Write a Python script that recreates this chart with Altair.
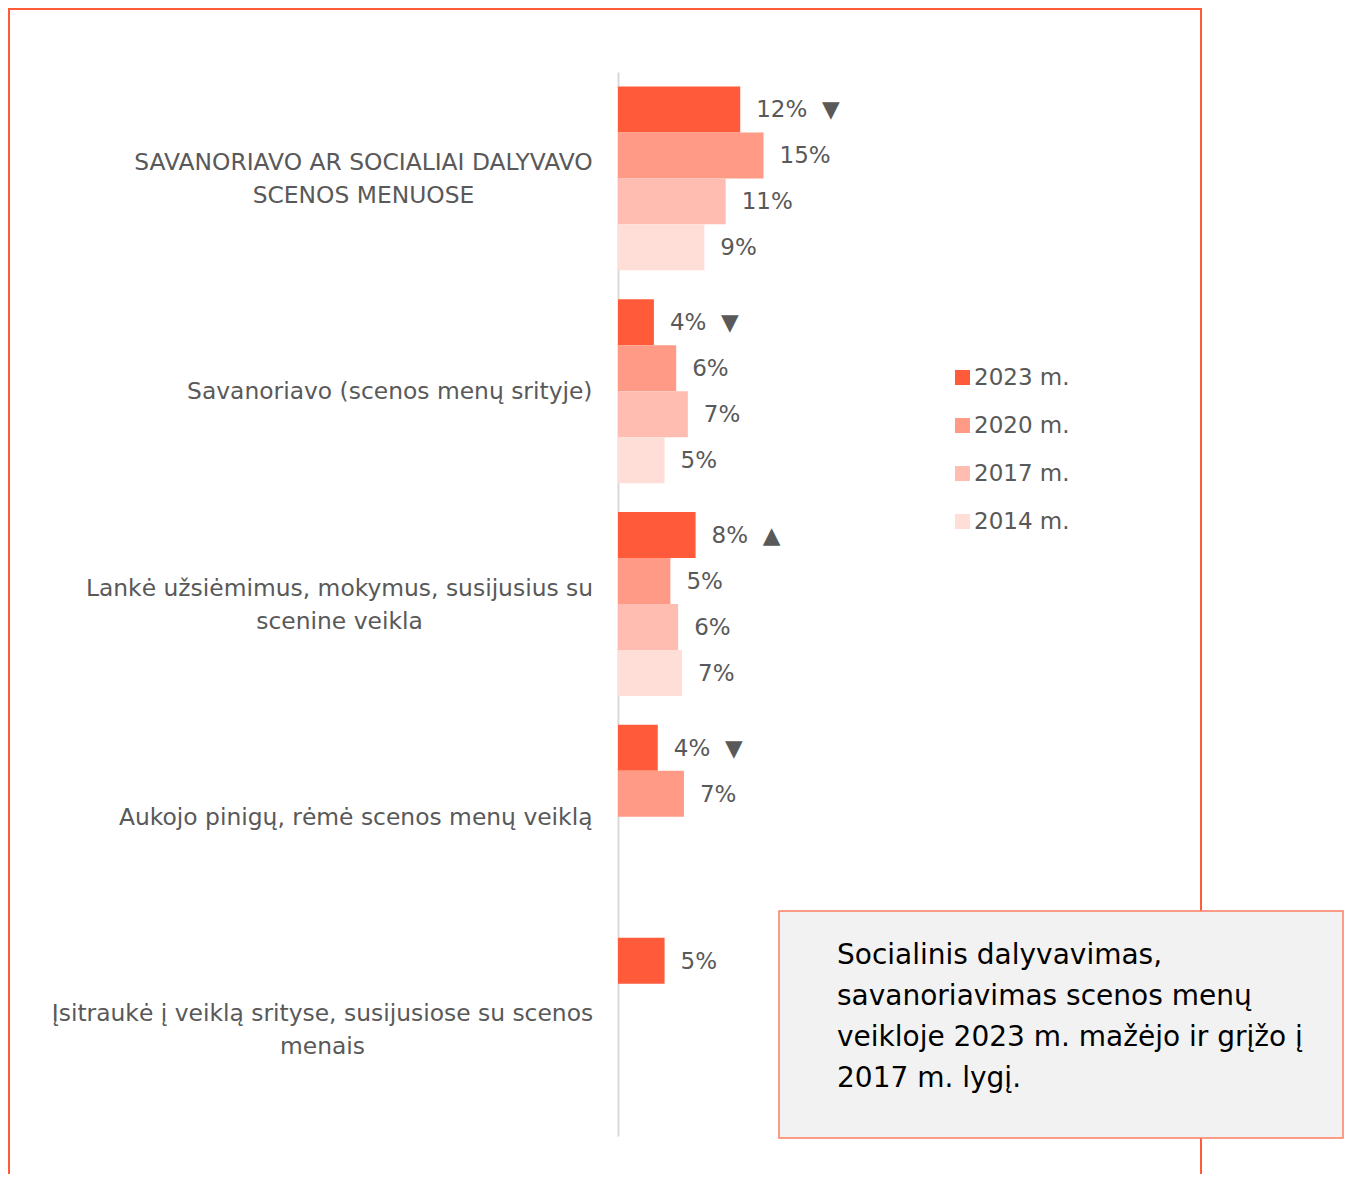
import altair as alt
import pandas as pd

# ---------------- data ----------------
categories = [
    "SAVANORIAVO AR SOCIALIAI DALYVAVO\nSCENOS MENUOSE",
    "Savanoriavo (scenos menų srityje)",
    "Lankė užsiėmimus, mokymus, susijusius su\nscenine veikla",
    "Aukojo pinigų, rėmė scenos menų veiklą",
    "Įsitraukė į veiklą srityse, susijusiose su scenos\nmenais",
]
years = ["2023 m.", "2020 m.", "2017 m.", "2014 m."]

values_2023 = [12.6, 3.7, 8.0, 4.1, 4.8]
values_2020 = [15.0, 6.0, 5.4, 6.8, None]
values_2017 = [11.1, 7.2, 6.2, None, None]
values_2014 = [8.9, 4.8, 6.6, None, None]

labels_2023 = ["12%", "4%", "8%", "4%", "5%"]
labels_2020 = ["15%", "6%", "5%", "7%", ""]
labels_2017 = ["11%", "7%", "6%", "", ""]
labels_2014 = ["9%", "5%", "7%", "", ""]

arrows_2023 = ["▼", "▼", "▲", "▼", ""]

note_lines = [
    "Socialinis dalyvavimas,",
    "savanoriavimas scenos menų",
    "veikloje 2023 m. mažėjo ir grįžo į",
    "2017 m. lygį.",
]

colors = ["#FF5B3A", "#FF9A86", "#FFBCB0", "#FFDED8"]

rows = []
series = [
    (years[0], values_2023, labels_2023, arrows_2023),
    (years[1], values_2020, labels_2020, [""] * 5),
    (years[2], values_2017, labels_2017, [""] * 5),
    (years[3], values_2014, labels_2014, [""] * 5),
]
for yr, vals, labs, arrs in series:
    for cat, v, lab, arr in zip(categories, vals, labs, arrs):
        if v is None:
            continue
        text = lab + ("\u00a0\u00a0" + arr if arr else "")
        rows.append({"category": cat, "year": yr, "value": v, "label": text})
df = pd.DataFrame(rows)
one = pd.DataFrame({"k": [0]})

FONT = "DejaVu Sans"
GREY = "#595959"

label_pad = {
    "indexof(datum.value, 'SAVANORIAVO AR') >= 0": 255,
    "indexof(datum.value, 'Lankė') >= 0": 279,
    "indexof(datum.value, 'Įsitraukė') >= 0": 296,
}
multi_test = "indexof(datum.value, '\\n') >= 0"
pad_cond = {"condition": [{"test": t, "value": v} for t, v in label_pad.items()], "value": 26}
align_cond = {"condition": {"test": multi_test, "value": "center"}, "value": "right"}
offset_cond = {"condition": {"test": multi_test, "value": -15.5}, "value": 1}

y_enc = alt.Y(
    "category:N",
    sort=categories,
    scale=alt.Scale(domain=categories, paddingInner=0.136, paddingOuter=0.068),
    axis=alt.Axis(
        title=None,
        ticks=False,
        tickSize=0,
        domainColor="#D9D9D9",
        domainWidth=2,
        labelFont=FONT,
        labelFontSize=23.4,
        labelColor=GREY,
        labelLimit=800,
        labelLineHeight=33,
        labelExpr="split(datum.label, '\\n')",
        labelPadding=pad_cond,
        labelAlign=align_cond,
        labelOffset=offset_cond,
        labelBaseline="middle",
    ),
)

base = alt.Chart(df).encode(
    y=y_enc,
    yOffset=alt.YOffset("year:N", sort=years, scale=alt.Scale(domain=years, paddingInner=0, paddingOuter=0)),
    x=alt.X("value:Q", scale=alt.Scale(domain=[0, 60]), axis=None),
)

bars = base.mark_bar().encode(
    color=alt.Color(
        "year:N",
        sort=years,
        scale=alt.Scale(domain=years, range=colors),
        legend=alt.Legend(
            title=None,
            orient="none",
            legendX=333,
            legendY=294,
            direction="vertical",
            symbolType="square",
            symbolSize=225,
            symbolStrokeWidth=0,
            labelFont=FONT,
            labelFontSize=23,
            labelColor=GREY,
            labelOffset=0,
            rowPadding=24,
        ),
    )
)

texts = base.mark_text(align="left", baseline="middle", dx=16, dy=1, font=FONT, fontSize=23, color=GREY).encode(
    text="label:N"
)

border = alt.Chart(one).mark_rect(filled=False, stroke="#FF5B3A", strokeWidth=2).encode(
    x=alt.value(-609), x2=alt.value(583), y=alt.value(-63), y2=alt.value(1300)
)

box = alt.Chart(one).mark_rect(fill="#F2F2F2", stroke="#FF7F62", strokeWidth=1.5).encode(
    x=alt.value(161), x2=alt.value(725), y=alt.value(839), y2=alt.value(1066)
)

box_text = alt.Chart(one).mark_text(
    align="left", baseline="alphabetic", font=FONT, fontSize=28, lineHeight=41, color="#000000", text=note_lines
).encode(x=alt.value(219), y=alt.value(892))

chart = (
    alt.layer(border, bars, texts, box, box_text)
    .properties(
        width=582,
        height=1064,
        autosize=alt.AutoSizeParams(type="none"),
        padding={"left": 610, "top": 64, "right": 144, "bottom": 38},
        background="white",
    )
    .configure_view(strokeWidth=0)
)

chart.save("out.html", embed_options={"renderer": "svg", "actions": False})
